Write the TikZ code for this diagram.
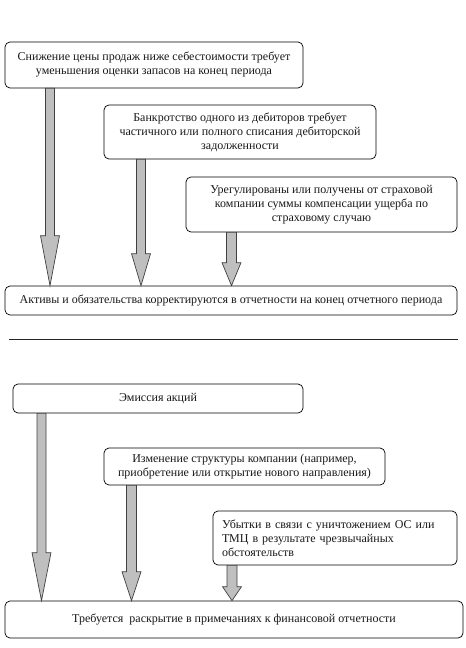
\documentclass[tikz,border=0pt]{standalone}
\usepackage{fontspec}
\setmainfont{Liberation Serif}
\usetikzlibrary{calc}
\tikzset{
  box/.style={draw=black, line width=0.7bp, rounded corners=5bp, fill=white,
    inner sep=0pt, align=center, font=\fontsize{12bp}{14bp}\selectfont, text=black!90},
  blockarrow/.style={draw=black!75, line width=0.7bp, fill=black!25, line join=miter},
}
% #1 x-coordinate name, #2 source, #3 target, #4 head length, #5 shaft half width, #6 head half width
\newcommand\blockarr[6]{%
  \draw[blockarrow]
    ($(#2.south -| #1)+(-#5,0)$) -- ($(#3.north -| #1)+(-#5,-#4)$)
    -- ($(#3.north -| #1)+(-#6,-#4)$) -- (#3.north -| #1)
    -- ($(#3.north -| #1)+(#6,-#4)$) -- ($(#3.north -| #1)+(#5,-#4)$)
    -- ($(#2.south -| #1)+(#5,0)$) -- cycle;}
\begin{document}
\begin{tikzpicture}[x=1bp,y=-1bp]
\useasboundingbox (0,0) rectangle (466,648);
% upper part
\node[box, minimum width=298bp, minimum height=46bp] (b1) at (154,65)
  {Снижение цены продаж ниже себестоимости требует\\уменьшения оценки запасов на конец периода};
\node[box, minimum width=272bp, minimum height=54bp] (b2) at (240,132)
  {Банкротство одного из дебиторов требует\\частичного или полного списания дебиторской\\задолженности};
\node[box, minimum width=271bp, minimum height=55bp] (b3) at (321.5,204.5)
  {Урегулированы или получены от страховой\\компании суммы компенсации ущерба по\\страховому случаю};
\node[box, minimum width=452bp, minimum height=29bp] (b4) at (231,300.5)
  {Активы и обязательства корректируются в отчетности на конец отчетного периода};
\coordinate (x1) at (50,0);
\coordinate (x2) at (141,0);
\coordinate (x3) at (231.5,0);
\blockarr{x1}{b1}{b4}{50}{4.5}{9.5}
\blockarr{x2}{b2}{b4}{32}{4.5}{9.5}
\blockarr{x3}{b3}{b4}{23}{5}{9.5}
% separator
\coordinate (s1) at (9,339);
\coordinate (s2) at (458,339);
\draw[line width=0.8bp, black!85] (s1) -- (s2);
% lower part
\node[box, minimum width=290bp, minimum height=29bp] (b5) at (158,398.5)
  {Эмиссия акций};
\node[box, minimum width=281bp, minimum height=37bp] (b6) at (244.5,466.5)
  {Изменение структуры компании (например,\\приобретение или открытие нового направления)};
\node[box, minimum width=244bp, minimum height=54bp, align=left, text width=226bp] (b7) at (335,538)
  {Убытки в связи с уничтожением ОС или\\ТМЦ в результате чрезвычайных\\обстоятельств};
\node[box, minimum width=458bp, minimum height=37bp] (b8) at (234,619.5)
  {Требуется\ \ раскрытие в примечаниях к финансовой отчетности};
\coordinate (x5) at (41.5,0);
\coordinate (x6) at (131.5,0);
\coordinate (x7) at (232,0);
\blockarr{x5}{b5}{b8}{48}{4.5}{9.5}
\blockarr{x6}{b6}{b8}{29}{5}{9.5}
\blockarr{x7}{b7}{b8}{14}{5}{9.5}
\end{tikzpicture}
\end{document}
